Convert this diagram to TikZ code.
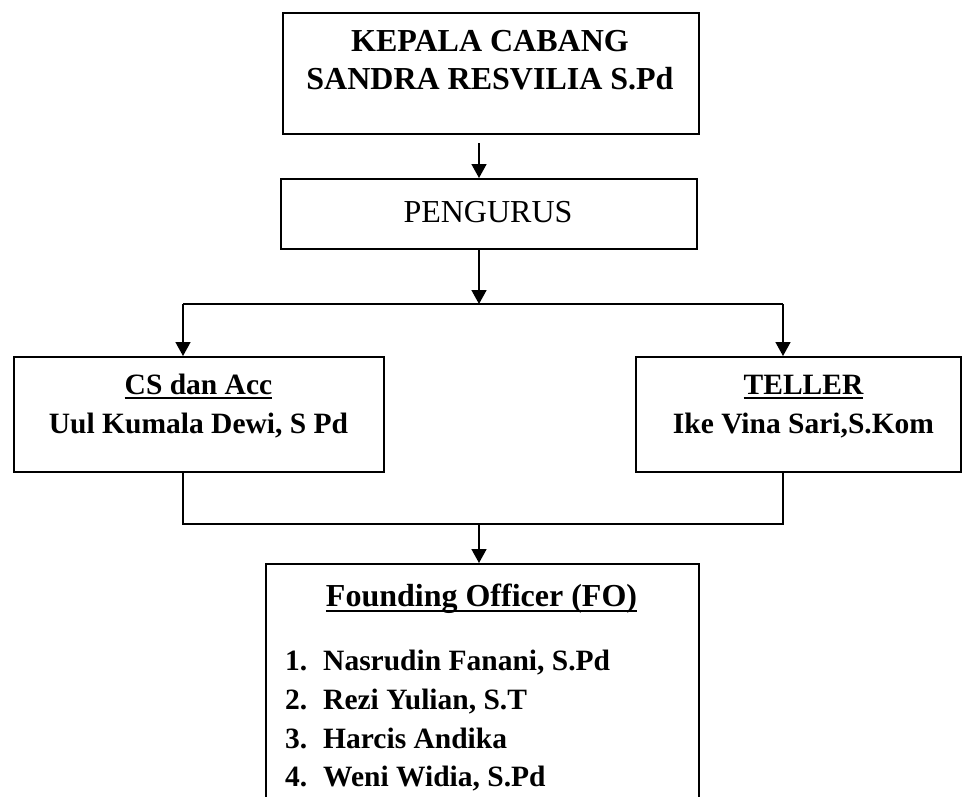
\documentclass[tikz,border=0pt]{standalone}
\usepackage{fontspec}
\setmainfont{Liberation Serif}
\usetikzlibrary{arrows.meta}
\newcommand\myul[2]{\setbox0\hbox{#2}\rlap{\rule[-#1]{\wd0}{2pt}}\box0}
\begin{document}
\begin{tikzpicture}[x=1pt,y=-1pt,
  box/.style={draw, line width=1.8pt, inner sep=0pt, anchor=north west},
  conn/.style={line width=1.6pt},
  arr/.style={conn, -{Triangle[length=14pt,width=15pt]}},
  txt/.style={inner sep=0pt, anchor=base},
  bigb/.style={txt, font=\fontsize{32}{38}\selectfont\bfseries},
  bigr/.style={txt, font=\fontsize{32}{38}\selectfont},
  midb/.style={txt, font=\fontsize{29.5}{38}\selectfont\bfseries},
  lst/.style={inner sep=0pt, anchor=base west, font=\fontsize{29.5}{38}\selectfont\bfseries}
]
\useasboundingbox (0,0) rectangle (962,796);
\clip (0,0) rectangle (962,796);

% boxes
\node[box, minimum width=416pt, minimum height=121pt] (kepala) at (282,12) {};
\node[box, minimum width=416pt, minimum height=70pt] (pengurus) at (280,178) {};
\node[box, minimum width=370pt, minimum height=115pt] (cs) at (13,356) {};
\node[box, minimum width=325pt, minimum height=115pt] (teller) at (635,356) {};
\node[box, minimum width=433pt, minimum height=260pt] (fo) at (265,563) {};

% texts
\node[bigb] (t1) at (490,51) {KEPALA CABANG};
\node[bigb] (t2) at (490,89) {SANDRA RESVILIA S.Pd};
\node[bigr] (t3) at (488,222) {PENGURUS};
\node[midb] (t4) at (198.5,394) {\myul{5pt}{CS dan Acc}};
\node[midb] (t5) at (198.5,433) {Uul Kumala Dewi, S Pd};
\node[midb] (t6) at (803.5,394) {\myul{5pt}{TELLER}};
\node[midb] (t7) at (803.5,433) {Ike Vina Sari,S.Kom};
\node[bigb] (t8) at (481.5,606) {\myul{6pt}{Founding Officer (FO)}};
\node[lst] (n1) at (285,670) {1.};
\node[lst] (m1) at (323,670) {Nasrudin Fanani, S.Pd};
\node[lst] (n2) at (285,709) {2.};
\node[lst] (m2) at (323,709) {Rezi Yulian, S.T};
\node[lst] (n3) at (285,748) {3.};
\node[lst] (m3) at (323,748) {Harcis Andika};
\node[lst] (n4) at (285,786) {4.};
\node[lst] (m4) at (323,786) {Weni Widia, S.Pd};

% connectors
\coordinate (a1) at (479,143);
\coordinate (j1) at (479,304);
\coordinate (jl) at (183,304);
\coordinate (jr) at (783,304);
\coordinate (bl) at (183,524);
\coordinate (br) at (783,524);
\coordinate (j2) at (479,524);

\draw[arr] (a1) -- (a1 |- pengurus.north);
\draw[arr] (pengurus.south -| j1) -- (j1);
\draw[conn] (jl) -- (jr);
\draw[arr] (jl) -- (jl |- cs.north);
\draw[arr] (jr) -- (jr |- teller.north);
\draw[conn] (cs.south -| bl) -- (bl) -- (br) -- (teller.south -| br);
\draw[arr] (j2) -- (j2 |- fo.north);
\end{tikzpicture}
\end{document}
